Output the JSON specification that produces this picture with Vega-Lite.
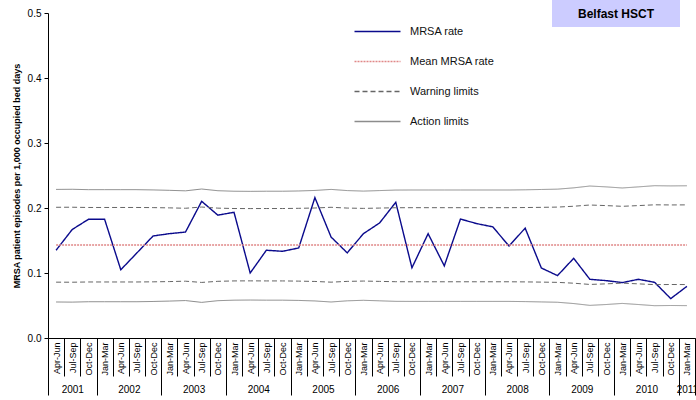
{
  "$schema": "https://vega.github.io/schema/vega-lite/v6.json",
  "width": 647,
  "height": 325,
  "autosize": {"type": "none"},
  "padding": {"left": 48, "top": 13, "right": 1, "bottom": 62},
  "background": "white",
  "config": {
    "font": "Liberation Sans",
    "view": {"stroke": null},
    "axis": {"grid": false, "labelColor": "#000", "tickColor": "#000", "domainColor": "#000", "titleColor": "#000", "labelFlush": false, "labelBound": false, "labelOverlap": false},
    "axisY": {"tickSize": 4, "labelPadding": 3, "labelFontSize": 10, "titleFontSize": 9, "titleFontWeight": "bold", "titlePadding": 6}
  },
  "data": {
    "values": [
      {"i": 0, "period": "Apr-Jun 2001", "rate": 0.135, "mean": 0.143, "uw": 0.2011, "lw": 0.0859, "ua": 0.2286, "la": 0.0554},
      {"i": 1, "period": "Jul-Sep 2001", "rate": 0.167, "mean": 0.143, "uw": 0.2012, "lw": 0.0858, "ua": 0.2288, "la": 0.0552},
      {"i": 2, "period": "Oct-Dec 2001", "rate": 0.1826, "mean": 0.143, "uw": 0.2008, "lw": 0.0862, "ua": 0.2282, "la": 0.0558},
      {"i": 3, "period": "Jan-Mar 2002", "rate": 0.1826, "mean": 0.143, "uw": 0.2008, "lw": 0.0862, "ua": 0.2282, "la": 0.0558},
      {"i": 4, "period": "Apr-Jun 2002", "rate": 0.105, "mean": 0.143, "uw": 0.2008, "lw": 0.0862, "ua": 0.2282, "la": 0.0558},
      {"i": 5, "period": "Jul-Sep 2002", "rate": 0.131, "mean": 0.143, "uw": 0.2008, "lw": 0.0862, "ua": 0.2282, "la": 0.0558},
      {"i": 6, "period": "Oct-Dec 2002", "rate": 0.157, "mean": 0.143, "uw": 0.2006, "lw": 0.0864, "ua": 0.2278, "la": 0.0562},
      {"i": 7, "period": "Jan-Mar 2003", "rate": 0.1605, "mean": 0.143, "uw": 0.2002, "lw": 0.0868, "ua": 0.2272, "la": 0.0568},
      {"i": 8, "period": "Apr-Jun 2003", "rate": 0.163, "mean": 0.143, "uw": 0.1996, "lw": 0.0874, "ua": 0.2264, "la": 0.0576},
      {"i": 9, "period": "Jul-Sep 2003", "rate": 0.2103, "mean": 0.143, "uw": 0.2015, "lw": 0.0855, "ua": 0.2292, "la": 0.0548},
      {"i": 10, "period": "Oct-Dec 2003", "rate": 0.189, "mean": 0.143, "uw": 0.1998, "lw": 0.0872, "ua": 0.2266, "la": 0.0574},
      {"i": 11, "period": "Jan-Mar 2004", "rate": 0.1934, "mean": 0.143, "uw": 0.1992, "lw": 0.0878, "ua": 0.2258, "la": 0.0582},
      {"i": 12, "period": "Apr-Jun 2004", "rate": 0.1, "mean": 0.143, "uw": 0.1991, "lw": 0.0879, "ua": 0.2256, "la": 0.0584},
      {"i": 13, "period": "Jul-Sep 2004", "rate": 0.135, "mean": 0.143, "uw": 0.1992, "lw": 0.0878, "ua": 0.2258, "la": 0.0582},
      {"i": 14, "period": "Oct-Dec 2004", "rate": 0.1334, "mean": 0.143, "uw": 0.1992, "lw": 0.0878, "ua": 0.2258, "la": 0.0582},
      {"i": 15, "period": "Jan-Mar 2005", "rate": 0.1385, "mean": 0.143, "uw": 0.1995, "lw": 0.0875, "ua": 0.2262, "la": 0.0578},
      {"i": 16, "period": "Apr-Jun 2005", "rate": 0.216, "mean": 0.143, "uw": 0.2, "lw": 0.087, "ua": 0.227, "la": 0.057},
      {"i": 17, "period": "Jul-Sep 2005", "rate": 0.1554, "mean": 0.143, "uw": 0.2011, "lw": 0.0859, "ua": 0.2286, "la": 0.0554},
      {"i": 18, "period": "Oct-Dec 2005", "rate": 0.131, "mean": 0.143, "uw": 0.1999, "lw": 0.0871, "ua": 0.2268, "la": 0.0572},
      {"i": 19, "period": "Jan-Mar 2006", "rate": 0.1605, "mean": 0.143, "uw": 0.1994, "lw": 0.0876, "ua": 0.226, "la": 0.058},
      {"i": 20, "period": "Apr-Jun 2006", "rate": 0.177, "mean": 0.143, "uw": 0.1999, "lw": 0.0871, "ua": 0.2268, "la": 0.0572},
      {"i": 21, "period": "Jul-Sep 2006", "rate": 0.2088, "mean": 0.143, "uw": 0.2004, "lw": 0.0866, "ua": 0.2276, "la": 0.0564},
      {"i": 22, "period": "Oct-Dec 2006", "rate": 0.108, "mean": 0.143, "uw": 0.2005, "lw": 0.0865, "ua": 0.2277, "la": 0.0563},
      {"i": 23, "period": "Jan-Mar 2007", "rate": 0.1605, "mean": 0.143, "uw": 0.2005, "lw": 0.0865, "ua": 0.2277, "la": 0.0563},
      {"i": 24, "period": "Apr-Jun 2007", "rate": 0.111, "mean": 0.143, "uw": 0.2005, "lw": 0.0865, "ua": 0.2277, "la": 0.0563},
      {"i": 25, "period": "Jul-Sep 2007", "rate": 0.183, "mean": 0.143, "uw": 0.2005, "lw": 0.0865, "ua": 0.2277, "la": 0.0563},
      {"i": 26, "period": "Oct-Dec 2007", "rate": 0.176, "mean": 0.143, "uw": 0.2005, "lw": 0.0865, "ua": 0.2277, "la": 0.0563},
      {"i": 27, "period": "Jan-Mar 2008", "rate": 0.171, "mean": 0.143, "uw": 0.2005, "lw": 0.0865, "ua": 0.2277, "la": 0.0563},
      {"i": 28, "period": "Apr-Jun 2008", "rate": 0.1415, "mean": 0.143, "uw": 0.2005, "lw": 0.0865, "ua": 0.2277, "la": 0.0563},
      {"i": 29, "period": "Jul-Sep 2008", "rate": 0.169, "mean": 0.143, "uw": 0.2007, "lw": 0.0863, "ua": 0.228, "la": 0.056},
      {"i": 30, "period": "Oct-Dec 2008", "rate": 0.1077, "mean": 0.143, "uw": 0.201, "lw": 0.086, "ua": 0.2285, "la": 0.0555},
      {"i": 31, "period": "Jan-Mar 2009", "rate": 0.096, "mean": 0.143, "uw": 0.2014, "lw": 0.0856, "ua": 0.229, "la": 0.055},
      {"i": 32, "period": "Apr-Jun 2009", "rate": 0.1226, "mean": 0.143, "uw": 0.2027, "lw": 0.0843, "ua": 0.231, "la": 0.053},
      {"i": 33, "period": "Jul-Sep 2009", "rate": 0.0903, "mean": 0.143, "uw": 0.2046, "lw": 0.0824, "ua": 0.2338, "la": 0.0502},
      {"i": 34, "period": "Oct-Dec 2009", "rate": 0.0883, "mean": 0.143, "uw": 0.2037, "lw": 0.0833, "ua": 0.2325, "la": 0.0515},
      {"i": 35, "period": "Jan-Mar 2010", "rate": 0.0852, "mean": 0.143, "uw": 0.2026, "lw": 0.0844, "ua": 0.2308, "la": 0.0532},
      {"i": 36, "period": "Apr-Jun 2010", "rate": 0.0903, "mean": 0.143, "uw": 0.2037, "lw": 0.0833, "ua": 0.2325, "la": 0.0515},
      {"i": 37, "period": "Jul-Sep 2010", "rate": 0.0857, "mean": 0.143, "uw": 0.2049, "lw": 0.0821, "ua": 0.2343, "la": 0.0497},
      {"i": 38, "period": "Oct-Dec 2010", "rate": 0.0606, "mean": 0.143, "uw": 0.2047, "lw": 0.0823, "ua": 0.234, "la": 0.05},
      {"i": 39, "period": "Jan-Mar 2011", "rate": 0.0795, "mean": 0.143, "uw": 0.2048, "lw": 0.0822, "ua": 0.2342, "la": 0.0498}
    ]
  },
  "layer": [
    {
      "mark": {"type": "line", "strokeWidth": 1.4},
      "encoding": {
        "x": {"field": "i", "type": "quantitative", "scale": {"domain": [-0.5, 39.5], "nice": false, "zero": false},
          "axis": {"orient": "bottom", "title": null, "values": [0,1,2,3,4,5,6,7,8,9,10,11,12,13,14,15,16,17,18,19,20,21,22,23,24,25,26,27,28,29,30,31,32,33,34,35,36,37,38,39],
            "labelExpr": "['Apr-Jun','Jul-Sep','Oct-Dec','Jan-Mar'][datum.value % 4]",
            "labelAngle": -90, "labelAlign": "right", "labelBaseline": "middle", "labelPadding": 4, "labelFontSize": 9,
            "ticks": false, "domain": true}},
        "y": {"field": "rate", "type": "quantitative", "scale": {"domain": [0, 0.5], "nice": false, "zero": true},
          "axis": {"orient": "left", "values": [0, 0.1, 0.2, 0.3, 0.4, 0.5], "format": ".1f", "title": "MRSA patient episodes per 1,000 occupied bed days"}},
        "color": {"datum": "MRSA rate", "type": "nominal",
          "scale": {"domain": ["MRSA rate", "Mean MRSA rate", "Warning limits", "Action limits"], "range": ["#0a0a8c", "#e08888", "#666666", "#8c8c8c"]},
          "legend": {"orient": "none", "legendX": 317, "legendY": 6, "title": null, "padding": 0, "symbolType": "M-2,0H2", "symbolSize": 529, "symbolStrokeWidth": 1.3, "labelOffset": 20, "labelFontSize": 11, "labelColor": "#111", "rowPadding": 12}},
        "strokeDash": {"datum": "MRSA rate", "type": "nominal",
          "scale": {"domain": ["MRSA rate", "Mean MRSA rate", "Warning limits", "Action limits"], "range": [[1, 0], [2, 1], [5, 3], [1, 0]]},
          "legend": {"orient": "none", "legendX": 317, "legendY": 6, "title": null, "padding": 0, "symbolType": "M-2,0H2", "symbolSize": 529, "symbolStrokeWidth": 1.3, "labelOffset": 20, "labelFontSize": 11, "labelColor": "#111", "rowPadding": 12}}
      }
    },
    {
      "mark": {"type": "line", "strokeWidth": 1.6},
      "encoding": {
        "x": {"field": "i", "type": "quantitative",
          "axis": {"orient": "bottom", "title": null, "values": [-0.5,0.5,1.5,2.5,3.5,4.5,5.5,6.5,7.5,8.5,9.5,10.5,11.5,12.5,13.5,14.5,15.5,16.5,17.5,18.5,19.5,20.5,21.5,22.5,23.5,24.5,25.5,26.5,27.5,28.5,29.5,30.5,31.5,32.5,33.5,34.5,35.5,36.5,37.5,38.5,39.5],
            "labels": false, "ticks": true, "tickSize": 38, "domain": false}},
        "y": {"field": "mean", "type": "quantitative", "axis": {"orient": "left", "values": [0, 0.1, 0.2, 0.3, 0.4, 0.5], "format": ".1f", "title": "MRSA patient episodes per 1,000 occupied bed days"}},
        "color": {"datum": "Mean MRSA rate", "type": "nominal"},
        "strokeDash": {"datum": "Mean MRSA rate", "type": "nominal"}
      }
    },
    {
      "mark": {"type": "line", "strokeWidth": 1},
      "encoding": {
        "x": {"field": "i", "type": "quantitative",
          "axis": {"orient": "bottom", "title": null, "values": [-0.5, 2.5, 6.5, 10.5, 14.5, 18.5, 22.5, 26.5, 30.5, 34.5, 38.5, 39.5],
            "labels": false, "ticks": true, "tickSize": 57, "domain": false}},
        "y": {"field": "uw", "type": "quantitative", "axis": {"orient": "left", "values": [0, 0.1, 0.2, 0.3, 0.4, 0.5], "format": ".1f", "title": "MRSA patient episodes per 1,000 occupied bed days"}},
        "color": {"datum": "Warning limits", "type": "nominal"},
        "strokeDash": {"datum": "Warning limits", "type": "nominal"}
      }
    },
    {
      "mark": {"type": "line", "strokeWidth": 1},
      "encoding": {
        "x": {"field": "i", "type": "quantitative",
          "axis": {"orient": "bottom", "title": null, "values": [1, 4.5, 8.5, 12.5, 16.5, 20.5, 24.5, 28.5, 32.5, 36.5, 39],
            "labelExpr": "datum.value < 2 ? '2001' : '' + (2002 + floor((datum.value - 3) / 4))",
            "labels": true, "ticks": false, "domain": false, "labelAngle": 0, "labelPadding": 46, "labelFontSize": 10}},
        "y": {"field": "lw", "type": "quantitative", "axis": {"orient": "left", "values": [0, 0.1, 0.2, 0.3, 0.4, 0.5], "format": ".1f", "title": "MRSA patient episodes per 1,000 occupied bed days"}},
        "color": {"datum": "Warning limits", "type": "nominal"},
        "strokeDash": {"datum": "Warning limits", "type": "nominal"}
      }
    },
    {
      "mark": {"type": "line", "strokeWidth": 1},
      "encoding": {
        "x": {"field": "i", "type": "quantitative", "axis": null},
        "y": {"field": "ua", "type": "quantitative", "axis": {"orient": "left", "values": [0, 0.1, 0.2, 0.3, 0.4, 0.5], "format": ".1f", "title": "MRSA patient episodes per 1,000 occupied bed days"}},
        "color": {"datum": "Action limits", "type": "nominal"},
        "strokeDash": {"datum": "Action limits", "type": "nominal"}
      }
    },
    {
      "mark": {"type": "line", "strokeWidth": 1},
      "encoding": {
        "x": {"field": "i", "type": "quantitative", "axis": null},
        "y": {"field": "la", "type": "quantitative", "axis": {"orient": "left", "values": [0, 0.1, 0.2, 0.3, 0.4, 0.5], "format": ".1f", "title": "MRSA patient episodes per 1,000 occupied bed days"}},
        "color": {"datum": "Action limits", "type": "nominal"},
        "strokeDash": {"datum": "Action limits", "type": "nominal"},
        "opacity": {"datum": "Belfast HSCT", "type": "ordinal", "scale": {"range": [1, 1]},
          "legend": {"orient": "none", "legendX": 504, "legendY": -63.5, "title": null, "padding": 0,
            "symbolType": "M-1,-0.211H1V0.211H-1Z", "symbolSize": 16384, "symbolFillColor": "#ccccff", "symbolStrokeColor": "#ccccff", "symbolStrokeWidth": 0, "symbolOpacity": 1,
            "labelOffset": -64, "labelAlign": "center", "labelFontSize": 12, "labelFontWeight": "bold", "labelColor": "#000"}}
      }
    }
  ],
  "resolve": {"axis": {"x": "independent"}}
}
